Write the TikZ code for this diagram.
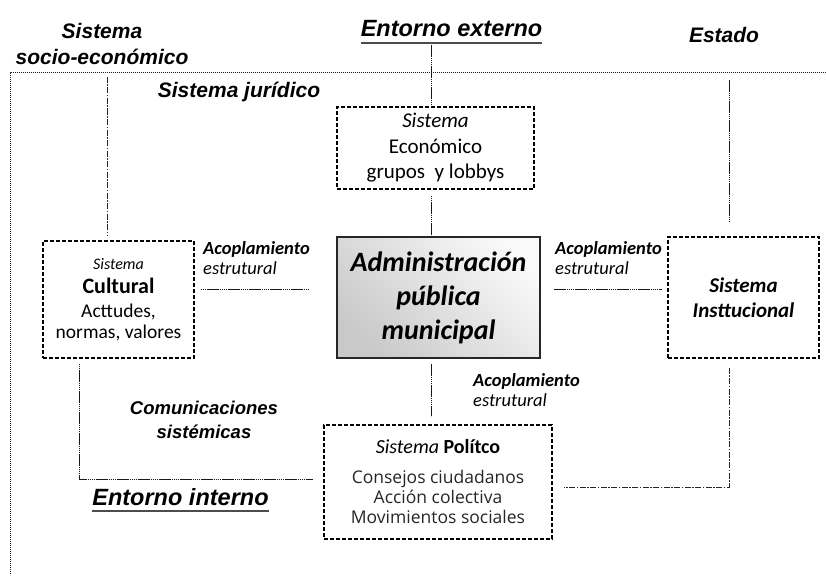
\documentclass[tikz,border=0pt]{standalone}
\usepackage{fontspec}
\setmainfont{Carlito}
\newfontfamily\arialf{Liberation Sans}
\newfontfamily\carlf{Carlito}
\newfontfamily\opensf{Open Sans}
\usetikzlibrary{positioning}
\tikzset{
  sysbox/.style={draw, dash pattern=on 4pt off 2pt, line width=1.2pt, align=center, inner sep=0pt},
  rel/.style={draw=black!90, line width=1pt, dash pattern=on 1.6pt off 0.5pt},
  reldd/.style={draw=black!85, line width=1pt, dash pattern=on 6pt off 1.5pt on 1.5pt off 1.5pt},
  frame/.style={draw=black!90, line width=1pt, dash pattern=on 1.2pt off 0.8pt},
  tag/.style={font=\arialf\bfseries\itshape\fontsize{21}{26}\selectfont, align=center, inner sep=0pt},
  entorno/.style={font=\arialf\bfseries\itshape\fontsize{23.5}{28}\selectfont, inner sep=0pt, anchor=base},
  uline/.style={line width=2.4pt, black!70},
  acop/.style={align=left, anchor=west, inner sep=0pt, font=\fontsize{18.5}{19.5}\selectfont},
}
\begin{document}
\begin{tikzpicture}[x=1pt, y=-1pt]
\useasboundingbox (0,0) rectangle (826,575);
% guide coordinates
\coordinate (top) at (10,73);
\coordinate (cx) at (431,0);
\coordinate (ix) at (729,0);
\coordinate (sx) at (107,0);
\coordinate (lx) at (79,0);
\coordinate (midy) at (0,289);
\coordinate (lowl) at (0,479);
\coordinate (lowr) at (0,487);

% outer frame
\draw[frame] (826,73) -- (top) -- (10,575);

% headings
\node[tag] (socio) at (102,44) {Sistema\\socio-económico};
\node[tag, anchor=base] (juridico) at (239,98) {Sistema jurídico};
\node[tag, anchor=base] (estado) at (724,43) {Estado};
\node[entorno] (externo) at (451.5,37) {Entorno externo};
\node[entorno] (interno) at (180.5,505) {Entorno interno};
\draw[uline] ([yshift=-6pt]externo.base west) -- ([yshift=-6pt]externo.base east);
\draw[uline] ([yshift=-6pt]interno.base west) -- ([yshift=-6pt]interno.base east);
\node[tag, font=\arialf\bfseries\itshape\fontsize{18.5}{24}\selectfont] (comun) at (204,420) {Comunicaciones\\sistémicas};

% systems
\node[sysbox, minimum width=197pt, minimum height=82pt, font=\fontsize{21}{25.5}\selectfont] (eco) at (435.5,148)
  {\textit{Sistema}\\Económico\\grupos\ \ y lobbys};
\node[draw=black!85, line width=1.8pt, minimum width=203pt, minimum height=121pt, top color=gray!5, bottom color=gray!42, shading angle=-45,
  align=center, inner sep=0pt, font=\bfseries\itshape\fontsize{28}{34}\selectfont] (admin) at (438.5,297.5)
  {Administración\\pública\\municipal};
\node[sysbox, minimum width=151pt, minimum height=117pt, font=\fontsize{19.5}{21}\selectfont] (cult) at (118.5,299.5)
  {{\itshape\fontsize{16}{18}\selectfont Sistema}\\[3pt]{\bfseries\fontsize{22}{24}\selectfont Cultural}\\[3pt]Acttudes,\\normas, valores};
\node[sysbox, minimum width=151pt, minimum height=121pt, font=\bfseries\itshape\fontsize{21}{25}\selectfont] (inst) at (743.5,297.5)
  {Sistema\\Insttucional};
\node[sysbox, minimum width=228pt, minimum height=114pt, font=\opensf\fontsize{17.5}{20}\selectfont, text=black!85] (pol) at (438,482)
  {{\carlf\fontsize{20}{22}\selectfont\textcolor{black}{\textit{Sistema} \textbf{Polítco}}}\\[10pt]Consejos ciudadanos\\Acción colectiva\\Movimientos sociales};

% coupling labels
\foreach \n/\px/\py in {acopL/203/258, acopR/555/258, acopB/473/390}
  \node[acop] (\n) at (\px,\py) {\textbf{\textit{Acoplamiento}}\\\textit{estrutural}};

% links
\draw[rel, shorten <=8pt] (externo.base -| cx) -- (eco.north -| cx);
\draw[rel, shorten <=6pt] (eco.south -| cx) -- (admin.north -| cx);
\draw[rel, shorten <=5pt, shorten >=8pt] (admin.south -| cx) -- (pol.north -| cx);
\draw[rel, shorten <=6pt, shorten >=27pt] (cult.east |- midy) -- (admin.west |- midy);
\draw[rel, shorten <=13pt, shorten >=6pt] (admin.east |- midy) -- (inst.west |- midy);
\draw[rel, shorten <=7pt, shorten >=15pt] (top -| ix) -- (inst.north -| ix);
\draw[reldd, shorten <=4pt, shorten >=4pt] (top -| sx) -- (cult.north -| sx);
\draw[rel, shorten <=5pt, shorten >=11pt] (cult.south -| lx) |- (pol.west |- lowl);
\draw[reldd, shorten <=9pt, shorten >=11pt] (inst.south -| ix) |- (pol.east |- lowr);
\end{tikzpicture}
\end{document}
